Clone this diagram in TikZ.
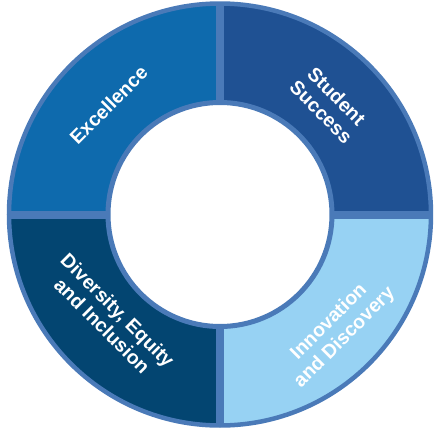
\documentclass[tikz,border=0pt]{standalone}
\usepackage{fontspec}
\setmainfont{Liberation Sans}
\usepackage{xcolor}
\usetikzlibrary{calc}

\definecolor{ringline}{HTML}{4A7AB8}
\definecolor{excelblue}{HTML}{0E6AAD}
\definecolor{successblue}{HTML}{1F5193}
\definecolor{diversblue}{HTML}{034571}
\definecolor{innovblue}{HTML}{97D2F3}

\begin{document}
\begin{tikzpicture}[x=1pt, y=1pt,
			segtext/.style={text=white, font=\bfseries\fontsize{19.5}{22}\selectfont, align=center, inner sep=0pt},
			divider/.style={draw=ringline, line width=8pt},
			rim/.style={draw=ringline, line width=4.5pt},
			]
			\useasboundingbox (-220,-214.5) rectangle (228,214.5);
			\def\ro{211}
			\def\ri{112}
			
			% ---- four quarter segments ----
			\foreach \a/\c in {0/successblue, 90/excelblue, 180/diversblue, 270/innovblue}{
				\fill[\c] (\a:\ro) arc[start angle=\a, end angle=\a+90, radius=\ro]
					-- (\a+90:\ri) arc[start angle=\a+90, end angle=\a, radius=\ri] -- cycle;
			}
			
			% ---- dividers and rims ----
			\foreach \a in {0, 90, 180, 270}{
				\draw[divider] (\a:\ri) -- (\a:\ro);
			}
			\draw[rim] (0,0) circle (\ro);
			\draw[rim, line width=5pt, fill=white] (0,0) circle (\ri);
			
			% ---- labels ----
			\node[segtext, rotate=45] (excel) at (-111.5,109.5) {Excellence};
			\node[segtext, rotate=-45] (success) at (109,110.5) {Student\\Success};
			\node[segtext, rotate=-45] (divers) at (-110,-103.5) {Diversity, Equity\\and Inclusion};
			\node[segtext, rotate=45] (innov) at (117,-115.5) {Innovation\\and Discovery};
			
		\end{tikzpicture}
\end{document}
